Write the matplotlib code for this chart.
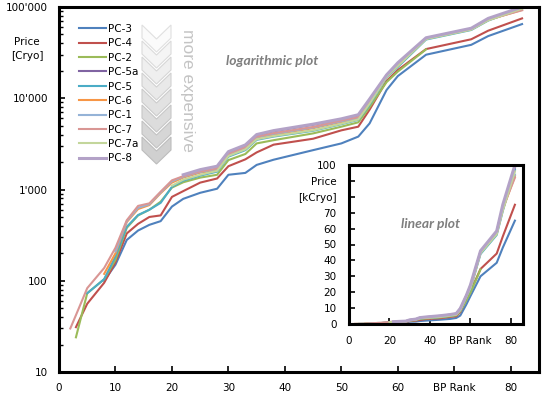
"""
Preis pro BP-Rang, je Serie -- log-Plot mit linearem Einschub.
"""
import numpy as np
import matplotlib
matplotlib.use('Agg')
import matplotlib.pyplot as plt
from matplotlib.patches import Polygon
from matplotlib.ticker import FixedLocator, LogLocator, NullFormatter

W, H = 544, 399
nan = np.nan

# ── Daten ─────────────────────────────────────────────────────────
ranks = [2, 3, 5, 8, 10, 12, 14, 16, 18, 20, 22, 25, 28, 30, 33, 35, 38,
         45, 50, 53, 55, 58, 60, 65, 73, 76, 82]

series_names = ['PC-3', 'PC-4', 'PC-2', 'PC-5a', 'PC-5', 'PC-6',
                'PC-1', 'PC-7', 'PC-7a', 'PC-8']

pc3 = [nan, nan, nan, 100, 150, 280, 355, 410, 450, 650, 790, 920, 1020, 1450,
       1520, 1860, 2120, 2700, 3200, 3800, 5300, 12300, 17500, 30000, 38500,
       48000, 65000]
pc4 = [nan, 31, 56, 95, 160, 330, 420, 500, 520, 830, 960, 1190, 1320, 1800,
       2140, 2550, 3100, 3600, 4450, 4880, 7500, 15500, 20400, 34600, 44300,
       55000, 75000]
pc2 = [nan, 24, 73, 104, 170, 380, 520, 600, 735, 1050, 1200, 1350, 1450, 2100,
       2450, 3200, 3470, 4120, 4880, 5450, 8000, 15000, 19600, 34300, nan, nan,
       nan]
pc5a = [nan] * 12 + [1780, 2560, 3030, 3930, 4350, 5130, 5880, 6500, 9600,
                     17800, 24000, 45500, 58000, 74000, 98000]
pc5 = [nan, nan, 73, 104, 185, 390, 525, 600, 714, 1070, 1250, 1420, 1570, 2290,
       2700, 3500, 3800, 4400, 5200, 5800, 8500, 17000, 22000, 44000, 56000,
       71000, 97000]
pc6 = [nan, nan, nan, 119, 200, 440, 611, 675, 912, 1190, 1350, 1530, 1630,
       2390, 2800, 3720, 4000, 4700, 5500, 6000, 9000, 17500, 23000, 45000,
       57000, 72000, 93000]
pc1 = [nan, nan, nan, nan, 210, 450, 630, 690, 930, 1230, 1380, 1560, 1680,
       2420, 2850, 3760, 4080, 4780, 5600, 6100, 9100, 17600, 23200, 45200,
       57200, 72500, 94000]
pc7 = [30, 42, 83, 138, 230, 460, 661, 705, 946, 1260, 1400, 1580, 1700, 2450,
       2900, 3800, 4150, 4850, 5700, 6200, 9300, 17800, 23500, 45500, 57500,
       73000, 92000]
pc7a = [nan] * 9 + [1100, 1280, 1450, 1600, 2330, 2750, 3550, 3850, 4450, 5250,
                    5850, 8700, 17200, 22500, 44500, 56500, 71500, 96000]
pc8 = [nan] * 10 + [1450, 1650, 1800, 2600, 3080, 4000, 4420, 5200, 5950, 6600,
                    9800, 18000, 24500, 46000, 58500, 75000, 100000]

series_values = [pc3, pc4, pc2, pc5a, pc5, pc6, pc1, pc7, pc7a, pc8]

colors = ['#4F81BD', '#C0504D', '#9BBB59', '#8064A2', '#4BACC6', '#F79646',
          '#95B3D7', '#D99694', '#C3D69B', '#B3A2C7']

log_ticks = [10, 100, 1000, 10000, 100000]
log_labels = ["10", "100", "1'000", "10'000", "100'000"]
x_ticks = [0, 10, 20, 30, 40, 50, 60, 70, 80]
x_labels = ['0', '10', '20', '30', '40', '50', '60', 'BP Rank', '80']
in_x_ticks = [0, 20, 40, 60, 80]
in_x_labels = ['0', '20', '40', 'BP Rank', '80']
in_y_ticks = list(range(0, 101, 10))
in_y_labels = ['0', '10', '20', '30', '40', '50', '60', '70', '[kCryo]',
               'Price', '100']

plt.rcParams['font.family'] = 'DejaVu Sans'


def px(x, y):
    # Pixel (von oben links) -> Figurkoordinaten
    return x / W, 1 - y / H


def style_box(ax):
    for sp in ax.spines.values():
        sp.set_linewidth(2.2)
        sp.set_color('black')
    ax.tick_params(which='both', direction='in', color='black',
                   labelsize=7.5, pad=8, top=False, right=False)
    ax.tick_params(which='major', length=4, width=1.2)
    ax.tick_params(which='minor', length=3, width=1.0)


fig = plt.figure(figsize=(W / 100, H / 100), dpi=100)

# ── Hauptdiagramm (log) ──────────────────────────────────────────
ax = fig.add_axes([59 / W, 27 / H, 480 / W, 365 / H])
handles = []
for name, vals, c in zip(series_names, series_values, colors):
    lw = 2.2 if name == 'PC-8' else 1.5
    h, = ax.plot(ranks, vals, color=c, lw=lw, label=name,
                 solid_joinstyle='round')
    handles.append(h)

ax.set_yscale('log')
ax.set_ylim(10, 100000)
ax.set_xlim(0, 85)
ax.yaxis.set_major_locator(FixedLocator(log_ticks))
ax.set_yticklabels(log_labels)
ax.yaxis.set_minor_locator(LogLocator(base=10, subs=range(2, 10)))
ax.yaxis.set_minor_formatter(NullFormatter())
ax.set_xticks(x_ticks)
ax.set_xticklabels(x_labels)
style_box(ax)

fig.text(*px(27, 49), 'Price\n[Cryo]', ha='center', va='center',
         fontsize=7.5, linespacing=1.45)

ax.legend(handles=handles, loc='upper left',
          bbox_to_anchor=px(79, 24), bbox_transform=fig.transFigure,
          frameon=False, fontsize=7.5, handlelength=2.6, handletextpad=0.2,
          labelspacing=0.42, borderpad=0, borderaxespad=0)

# Pfeile "more expensive"
for i in range(8):
    y0 = 25 + i * 16
    t = i / 7
    g_fill = 0.985 - 0.17 * t
    g_edge = 0.88 - 0.14 * t
    pts = [px(142, y0), px(156.5, y0 + 14), px(171, y0),
           px(171, y0 + 13), px(156.5, y0 + 27), px(142, y0 + 13)]
    fig.add_artist(Polygon(pts, closed=True, transform=fig.transFigure,
                           facecolor=(g_fill,) * 3, edgecolor=(g_edge,) * 3,
                           lw=0.8, zorder=3))
fig.text(*px(187, 90), 'more expensive', rotation=-90, ha='center',
         va='center', fontsize=12.5, color='#c4c4c4',
         family='Liberation Sans')

fig.text(*px(272, 61), 'logarithmic plot', ha='center', va='center',
         fontsize=10, color='#7f7f7f', family='Lato', fontweight='bold',
         style='italic')

# ── Einschub (linear, kCryo) ─────────────────────────────────────
axi = fig.add_axes([349 / W, 75 / H, 174 / W, 159 / H], zorder=5)
axi.set_facecolor('white')
for name, vals, c in zip(series_names, series_values, colors):
    lw = 2.2 if name == 'PC-8' else 1.5
    axi.plot(ranks, np.array(vals, dtype=float) / 1000, color=c, lw=lw)
axi.set_xlim(0, 86)
axi.set_ylim(0, 100)
axi.set_xticks(in_x_ticks)
axi.set_xticklabels(in_x_labels)
axi.set_yticks(in_y_ticks)
axi.set_yticklabels(in_y_labels)
style_box(axi)
axi.tick_params(pad=9)

fig.text(*px(431, 224), 'linear plot', ha='center', va='center',
         fontsize=10, color='#7f7f7f', family='Lato', fontweight='bold',
         style='italic', zorder=10)

fig.savefig('out.png', dpi=100)
